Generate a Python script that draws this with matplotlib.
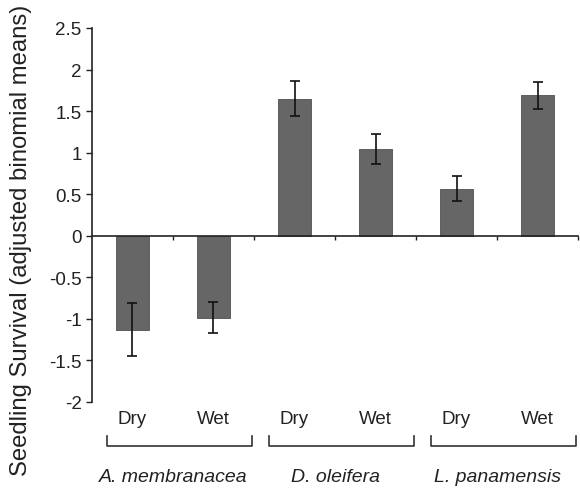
import numpy as np
import matplotlib.pyplot as plt
import matplotlib.transforms as mtransforms

plt.rcParams['font.family'] = ['Liberation Sans', 'DejaVu Sans']

# data
species = ['A. membranacea', 'D. oleifera', 'L. panamensis']
treatments = ['Dry', 'Wet']
means = [-1.13, -0.985, 1.65, 1.045, 0.565, 1.69]
errors = [0.32, 0.19, 0.21, 0.18, 0.15, 0.16]
yticks = [-2, -1.5, -1, -0.5, 0, 0.5, 1, 1.5, 2, 2.5]

fig = plt.figure(figsize=(5.8, 4.89), dpi=100)
ax = fig.add_axes([0.1586, 0.1759, 0.838, 0.7648])

x = np.arange(len(means))
ax.bar(x, means, width=0.4, color='#666666', edgecolor='#505050', linewidth=0.6, zorder=2)
ax.errorbar(x, means, yerr=errors, fmt='none', ecolor='#111111',
            elinewidth=1.2, capsize=3.5, capthick=1.2, zorder=3)

ax.set_xlim(-0.5, len(means) - 0.5)
ax.set_ylim(-2, 2.5)
ax.set_yticks(yticks)
ax.set_yticklabels(['%g' % v for v in yticks], fontsize=13.5, color='#222222')

# category axis crosses at zero, ticks between categories
for s in ['top', 'right']:
    ax.spines[s].set_visible(False)
ax.spines['bottom'].set_position(('data', 0))
ax.spines['left'].set_color('#222222')
ax.spines['bottom'].set_color('#222222')
ax.spines['left'].set_linewidth(1.2)
ax.spines['bottom'].set_linewidth(1.2)
ax.set_xticks(np.arange(0.5, len(means), 1.0))
ax.set_xticklabels([])
ax.tick_params(axis='x', direction='out', length=3, width=1, color='#222222')
ax.tick_params(axis='y', direction='out', length=4, width=1, color='#222222')

# y label sits a bit below the axes centre, as in the original
fig.text(21 / 580, 1 - 240 / 489, 'Seedling Survival (adjusted binomial means)',
         rotation=90, ha='center', va='center', fontsize=17.2, color='#222222')

trans = mtransforms.blended_transform_factory(ax.transData, ax.transAxes)
for i in range(len(means)):
    ax.text(i, -0.045, treatments[i % 2], transform=trans, ha='center', va='center',
            fontsize=13.5, color='#222222')

for g, name in enumerate(species):
    x0 = 2 * g - 0.32
    x1 = 2 * g + 1 + 0.47
    ax.plot([x0, x0, x1, x1], [-0.091, -0.118, -0.118, -0.091], transform=trans,
            color='#333333', linewidth=1.2, clip_on=False)
    ax.text(2 * g + 0.5, -0.198, name, transform=trans, ha='center', va='center',
            fontsize=14, style='italic', color='#222222')

fig.savefig('out.png', dpi=100)
